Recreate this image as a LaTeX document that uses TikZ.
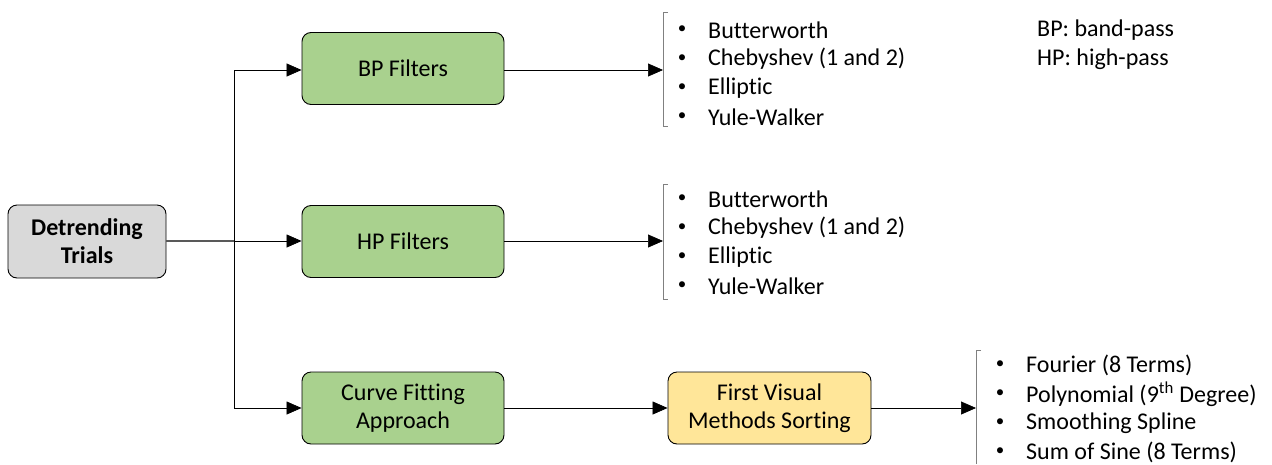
\documentclass[tikz,border=0pt]{standalone}
\usepackage{fontspec}
\setmainfont{Carlito}[Ligatures={NoCommon}]
\usetikzlibrary{arrows.meta}
\definecolor{boxgray}{HTML}{D9D9D9}
\definecolor{boxgreen}{HTML}{A9D18E}
\definecolor{boxyellow}{HTML}{FFE699}
\definecolor{linegray}{HTML}{595959}
\begin{document}
\begin{tikzpicture}[x=1pt,y=-1pt,
  box/.style={draw=black, line width=0.9pt, rounded corners=9pt, minimum width=202pt, minimum height=72pt, align=center, font=\fontsize{24}{28}\selectfont, inner sep=0pt},
  conn/.style={draw=black, line width=0.7pt},
  arr/.style={conn, -{Triangle[length=15pt,width=13pt]}},
  brk/.style={draw=gray, line width=0.8pt},
  item/.style={anchor=west, inner sep=0pt, font=\fontsize{24}{28}\selectfont},
  bul/.style={anchor=center, inner sep=0pt, font=\fontsize{17}{20}\selectfont}
]
\useasboundingbox (0,0) rectangle (1272,464);
% boxes
\node[box, fill=boxgray, minimum width=158pt, minimum height=73pt, font=\fontsize{24}{28}\selectfont\bfseries] (dt) at (87,241.5) {Detrending\\Trials};
\node[box, fill=boxgreen] (bp) at (403,68.5) {BP Filters};
\node[box, fill=boxgreen] (hp) at (403,241.5) {HP Filters};
\node[box, fill=boxgreen] (cf) at (403,408) {Curve Fitting\\Approach};
\node[box, fill=boxyellow, minimum width=203pt] (fv) at (769.5,408) {First Visual\\Methods Sorting};
% trunk
\coordinate (j) at (234,241);
\coordinate (jt) at (234,70);
\coordinate (jb) at (234,408);
\draw[draw=linegray, line width=2.2pt] (dt.east |- j) -- (j);
\draw[conn] (jt) -- (jb);
\draw[arr] (jt) -- (bp.west |- jt);
\draw[arr] (j) -- (hp.west |- j);
\draw[arr] (jb) -- (cf.west |- jb);
% brackets
\coordinate (b1) at (663,70);
\coordinate (b2) at (663,241);
\coordinate (b3) at (976,408);
\draw[brk] (668,12) -- (663,12) -- (663,126) -- (668,126);
\draw[brk] (668,184) -- (663,184) -- (663,299) -- (668,299);
\draw[brk] (981,350) -- (976,350) -- (976,464);
\draw[arr] (bp.east |- b1) -- (b1);
\draw[arr] (hp.east |- b2) -- (b2);
\draw[arr] (cf.east |- fv) -- (fv.west);
\draw[arr] (fv.east |- b3) -- (b3);
% lists
\foreach \t [count=\i] in {Butterworth, Chebyshev (1 and 2), Elliptic, Yule-Walker}{
  \node[bul] (bpb\i) at (682,{30+29*(\i-1)}) {•};
  \node[item] (bpi\i) at (708,{30+29*(\i-1)}) {\t};
  \node[bul] (hpb\i) at (682,{199+29*(\i-1)}) {•};
  \node[item] (hpi\i) at (708,{199+29*(\i-1)}) {\t};
}
\foreach \t [count=\i] in {Fourier (8 Terms), Polynomial (9\textsuperscript{th} Degree), Smoothing Spline, Sum of Sine (8 Terms)}{
  \node[bul] (cfb\i) at (1000,{365+29*(\i-1)}) {•};
  \node[item] (cfi\i) at (1026,{365+29*(\i-1)}) {\t};
}
% legend
\node[item] (lg1) at (1037,30) {BP: band-pass};
\node[item] (lg2) at (1037,59) {HP: high-pass};
\end{tikzpicture}
\end{document}
